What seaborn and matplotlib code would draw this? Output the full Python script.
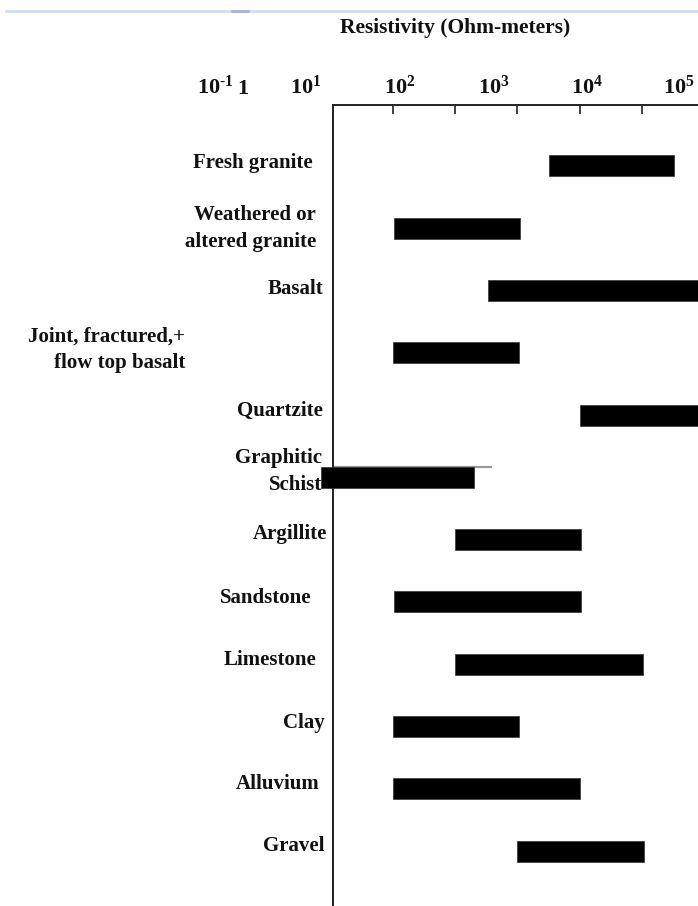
import numpy as np
import pandas as pd
import seaborn as sns
import matplotlib
matplotlib.use("Agg")
import matplotlib.pyplot as plt
from matplotlib.lines import Line2D

# ---------------- data ----------------
rocks = ["Fresh granite", "Weathered or\naltered granite", "Basalt",
         "Joint, fractured,+\nflow top basalt", "Quartzite", "Graphitic\nSchist",
         "Argillite", "Sandstone", "Limestone", "Clay", "Alluvium", "Gravel"]
low_ohm_m = [3.2e4, 1.05e2, 3.4e3, 1.0e2, 1.0e5, 7.0, 1.0e3, 1.05e2, 1.0e3, 1.0e2, 1.0e2, 1.0e4]
high_ohm_m = [3.3e6, 1.1e4, 1.0e7, 1.05e4, 1.0e7, 2.0e3, 1.05e5, 1.05e5, 1.05e6, 1.05e4, 1.0e5, 1.1e6]
decade_ticks = [1e2, 1e3, 1e4, 1e5, 1e6]
top_labels = [r"$\mathbf{10^{\text{-}1}}$", r"$\mathbf{1}$", r"$\mathbf{10^{1}}$", r"$\mathbf{10^{2}}$",
              r"$\mathbf{10^{3}}$", r"$\mathbf{10^{4}}$", r"$\mathbf{10^{5}}$"]
schist_line_end = 3.9e3
title = "Resistivity (Ohm-meters)"

df = pd.DataFrame({"rock": rocks, "low": low_ohm_m, "high": high_ohm_m})
df["row"] = np.arange(len(df))

# ---------------- style ----------------
sns.set_theme(style="white")
plt.rcParams["font.family"] = ["Liberation Serif", "DejaVu Serif"]
plt.rcParams["font.weight"] = "bold"
plt.rcParams["mathtext.fontset"] = "custom"
plt.rcParams["mathtext.rm"] = "Liberation Serif:bold"
plt.rcParams["mathtext.bf"] = "Liberation Serif:bold"
plt.rcParams["mathtext.it"] = "Liberation Serif:bold"

W, H = 698, 906
fig = plt.figure(figsize=(W / 100, H / 100), dpi=100)
fig.patch.set_facecolor("white")

# layout (pixels)
ax_left, ax_top = 333, 105
ax = fig.add_axes([ax_left / W, 0, 1 - ax_left / W, 1 - ax_top / H])
ax.set_xscale("log")
px_per_decade = 62.2
x_lo = 10 ** (2 - (393 - ax_left) / px_per_decade)
x_hi = 10 ** (2 + (W - 393) / px_per_decade)
ax.set_xlim(x_lo, x_hi)
row_px = 62.3
ax.set_ylim(11 + (H - 851) / row_px, -(166 - ax_top) / row_px)

# bars
bar_h = 21 / row_px
ax.barh(df["row"], df["high"] - df["low"], left=df["low"], height=bar_h,
        color="black", edgecolor="#333333", linewidth=0.5, clip_on=False, zorder=3)

# thin grey line above the schist bar
schist_row = rocks.index("Graphitic\nSchist")
ax.plot([x_lo, schist_line_end], [schist_row - 10.5 / row_px] * 2, color="#9a9a9a",
        lw=1.6, solid_capstyle="butt", zorder=2)

# spines & ticks
for s in ["bottom", "right"]:
    ax.spines[s].set_visible(False)
for s in ["top", "left"]:
    ax.spines[s].set_color("#222222")
    ax.spines[s].set_linewidth(1.4)
ax.set_xticks(decade_ticks)
ax.xaxis.set_minor_locator(matplotlib.ticker.NullLocator())
ax.tick_params(axis="x", which="major", top=True, bottom=False, labeltop=False,
               labelbottom=False, direction="in", length=6.5, width=1.2, color="#222222")
ax.set_yticks([])
ax.set_xlabel("")
ax.set_ylabel("")

# rock labels (right edge in figure pixels, small upward shift)
label_right_px = [313, 316, 323, 185, 323, 322, 327, 311, 316, 325, 320, 324]
label_dy_px = [3, 0, 2, 3, 4, 6, 6, 4, 4, 3, 5, 5]
for i, name in enumerate(rocks):
    ax.annotate(name, xy=(label_right_px[i], i), xycoords=("figure pixels", "data"),
                xytext=(0, label_dy_px[i]), textcoords="offset pixels",
                ha="right", va="center", multialignment="right",
                fontsize=15, fontweight="bold", linespacing=1.45,
                color="#111111", annotation_clip=False)

# top decade labels
top_label_left_px = [197, 237, 290, 384, 478, 571, 663]
for lbl, xp in zip(top_labels, top_label_left_px):
    fig.text(xp / W, 1 - 94 / H, lbl, ha="left", va="baseline", fontsize=16,
             color="#111111")

fig.text(455 / W, 1 - 28 / H, title, ha="center", va="center", fontsize=15.5,
         fontweight="bold", color="#111111")

# page ruler line at the very top
fig.add_artist(Line2D([6 / W, 1], [1 - 11 / H] * 2, color="#d3def2", lw=2.2))
fig.add_artist(Line2D([232 / W, 248 / W], [1 - 11 / H] * 2, color="#a9b9d3", lw=2.2))

fig.savefig("out.png", dpi=100, facecolor="white")
